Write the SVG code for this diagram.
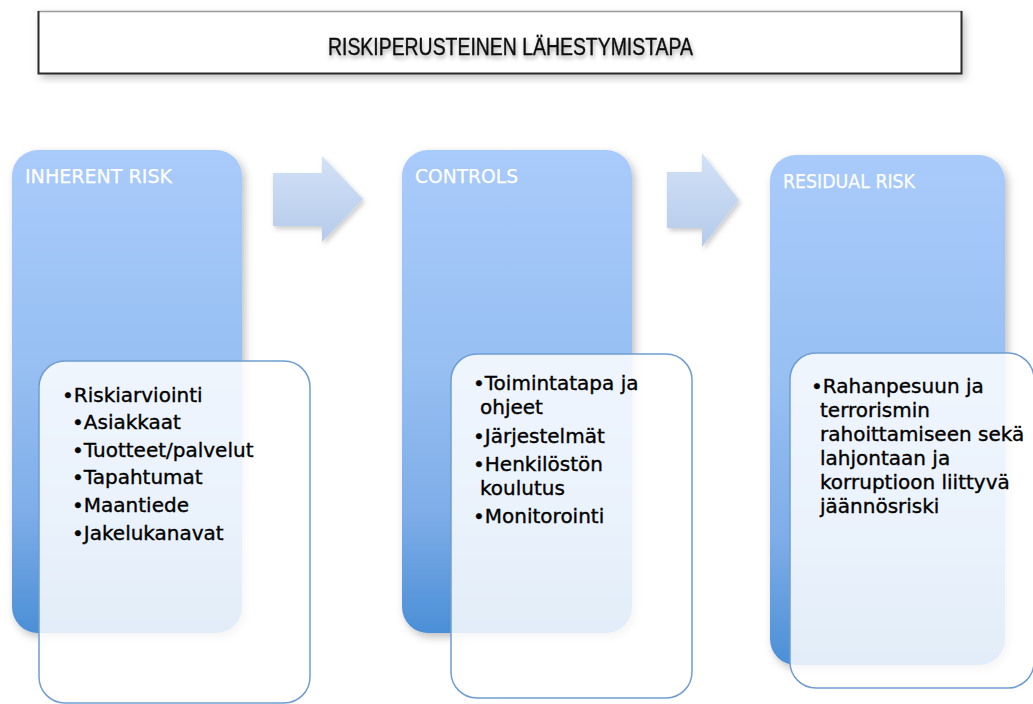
<svg xmlns="http://www.w3.org/2000/svg" width="1033" height="704" viewBox="0 0 1033 704">
<style>
.card{stroke:none;filter:url(#sh)}
.inner{fill:#ffffff;fill-opacity:0.84;stroke:#6f9dd1;stroke-width:1.5}
.ttl{font-family:"DejaVu Sans","Liberation Sans",sans-serif;font-size:20px;fill:#ffffff;stroke:#ffffff;stroke-width:0.25}
.b{font-family:"DejaVu Sans","Liberation Sans",sans-serif;font-size:20px;fill:#000000;stroke:#000000;stroke-width:0.35}
.arr{fill:url(#ag);filter:url(#sh2)}
</style>
<defs>
<linearGradient id="cg" x1="0" y1="0" x2="0" y2="1">
<stop offset="0" stop-color="#a9cbfb"/>
<stop offset="0.45" stop-color="#97bff2"/>
<stop offset="0.75" stop-color="#7eade8"/>
<stop offset="1" stop-color="#4b8fd6"/>
</linearGradient>
<linearGradient id="ag" x1="0" y1="0" x2="0" y2="1">
<stop offset="0" stop-color="#d2e1f6"/>
<stop offset="1" stop-color="#b5cbeb"/>
</linearGradient>
<filter id="sh" x="-10%" y="-10%" width="125%" height="125%">
<feDropShadow dx="3" dy="4" stdDeviation="4" flood-color="#000" flood-opacity="0.25"/>
</filter>
<filter id="sh2" x="-20%" y="-20%" width="150%" height="150%">
<feDropShadow dx="2" dy="3" stdDeviation="2.5" flood-color="#000" flood-opacity="0.2"/>
</filter>
<filter id="tsh" x="-5%" y="-30%" width="110%" height="180%">
<feDropShadow dx="1" dy="3" stdDeviation="2" flood-color="#000" flood-opacity="0.35"/>
</filter>
</defs>

<g id="header">
<rect x="38" y="11" width="924" height="63" fill="#ffffff" filter="url(#sh)"/>
<line x1="38" y1="11.5" x2="962" y2="11.5" stroke="#9a9a9a" stroke-width="1.5"/>
<polyline points="38.5,11 38.5,73.5 961.5,73.5 961.5,11" fill="none" stroke="#2b2b2b" stroke-width="2"/>
<text x="328" y="55" font-family="'Liberation Sans',sans-serif" font-size="23" fill="#111" stroke="#111" stroke-width="0.4" textLength="365" lengthAdjust="spacingAndGlyphs" filter="url(#tsh)">RISKIPERUSTEINEN LÄHESTYMISTAPA</text>
</g>

<g id="connectors">
<path class="arr" d="M273,173 H322 V156 L363,199 L322,242 V226 H273 Z"/>
<path class="arr" d="M667,172 H702 V153 L739,200 L702,247 V228 H667 Z"/>
</g>

<g id="inherent">
<rect class="card" x="12" y="150" width="230" height="483" rx="26" fill="url(#cg)"/>
<text class="ttl" x="25" y="183" textLength="147" lengthAdjust="spacingAndGlyphs">INHERENT RISK</text>
<rect class="inner" x="39" y="361" width="271" height="342" rx="26"/>
<text class="b" x="62" y="402">•Riskiarviointi</text>
<text class="b" x="72" y="429">•Asiakkaat</text>
<text class="b" x="72" y="457">•Tuotteet/palvelut</text>
<text class="b" x="72" y="484">•Tapahtumat</text>
<text class="b" x="72" y="512">•Maantiede</text>
<text class="b" x="72" y="540">•Jakelukanavat</text>
</g>

<g id="controls">
<rect class="card" x="402" y="150" width="230" height="483" rx="26" fill="url(#cg)"/>
<text class="ttl" x="415" y="183" textLength="103" lengthAdjust="spacingAndGlyphs">CONTROLS</text>
<rect class="inner" x="451" y="354" width="241" height="344" rx="26"/>
<text class="b" x="473" y="390">•Toimintatapa ja</text>
<text class="b" x="480" y="414">ohjeet</text>
<text class="b" x="473" y="443">•Järjestelmät</text>
<text class="b" x="473" y="471">•Henkilöstön</text>
<text class="b" x="480" y="495">koulutus</text>
<text class="b" x="473" y="523">•Monitorointi</text>
</g>

<g id="residual">
<rect class="card" x="770" y="155" width="235" height="510" rx="26" fill="url(#cg)"/>
<text class="ttl" x="783" y="188" textLength="132" lengthAdjust="spacingAndGlyphs">RESIDUAL RISK</text>
<rect class="inner" x="790" y="353" width="244" height="335" rx="26"/>
<text class="b" x="811" y="393">•Rahanpesuun ja</text>
<text class="b" x="820" y="417">terrorismin</text>
<text class="b" x="820" y="441">rahoittamiseen sekä</text>
<text class="b" x="820" y="465">lahjontaan ja</text>
<text class="b" x="820" y="489">korruptioon liittyvä</text>
<text class="b" x="820" y="513">jäännösriski</text>
</g>
</svg>
